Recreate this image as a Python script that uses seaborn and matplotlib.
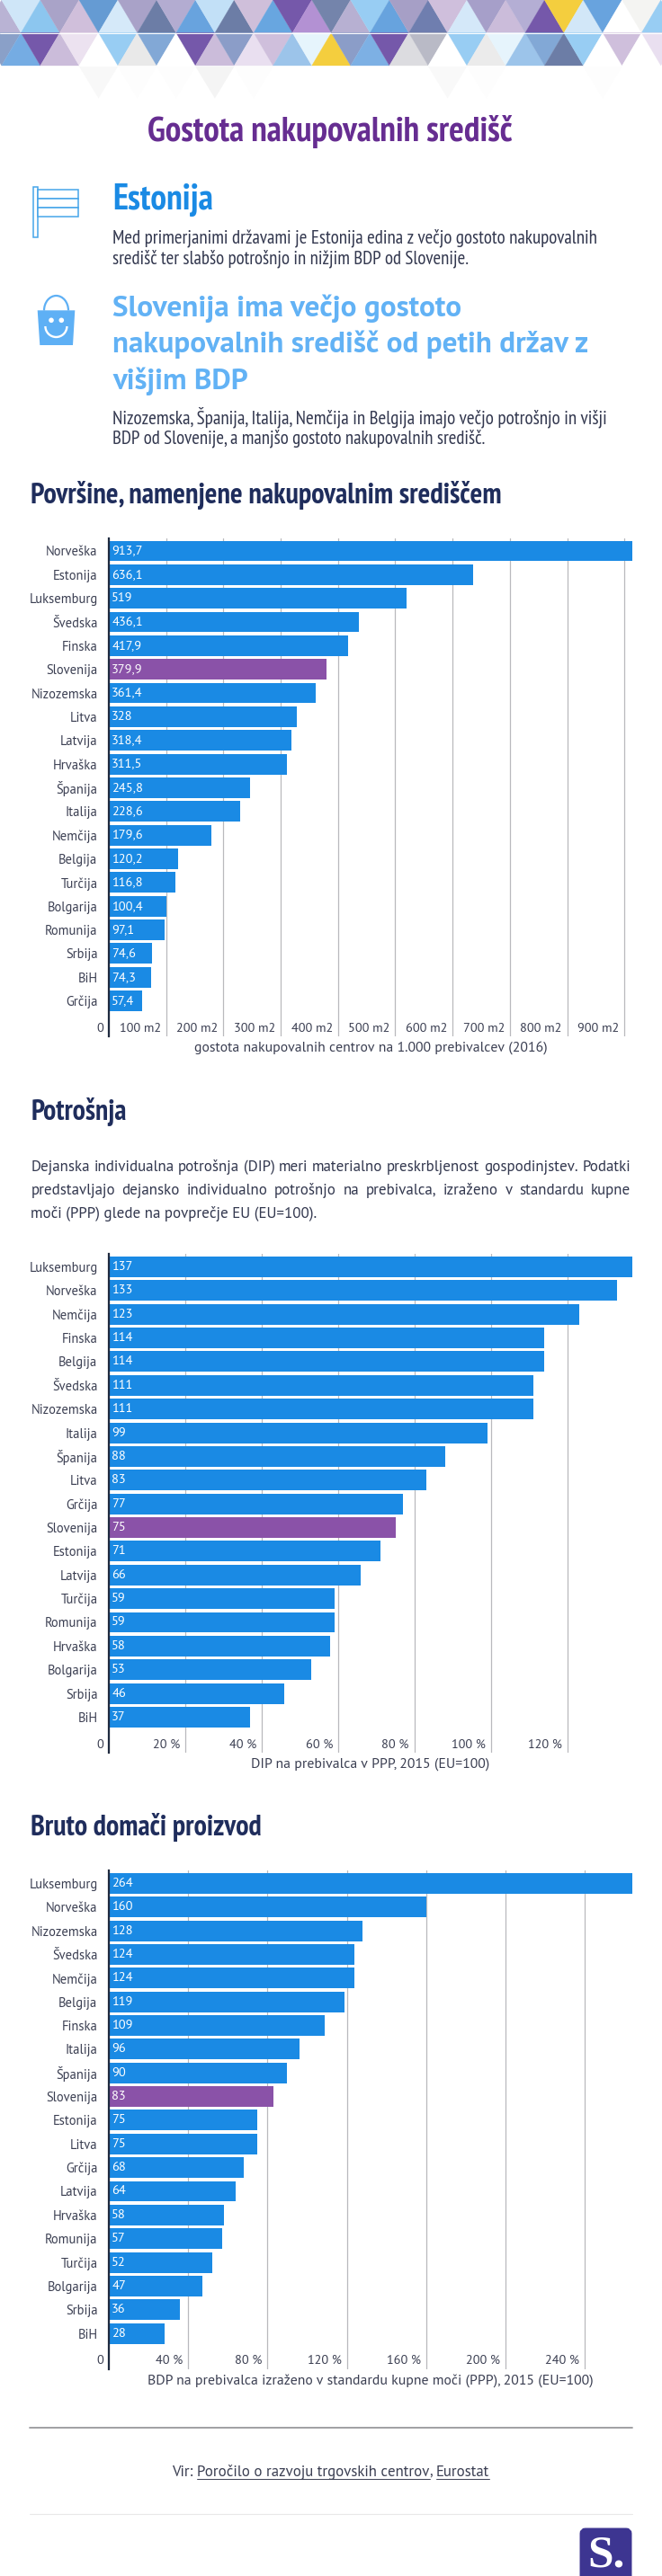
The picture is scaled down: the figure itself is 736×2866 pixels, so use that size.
import matplotlib
matplotlib.use("Agg")
import matplotlib.pyplot as plt
from matplotlib import font_manager as fm
from matplotlib.patches import Polygon, Rectangle, FancyBboxPatch, Arc, Circle
import seaborn as sns

# ---------- data ----------
CATS_AREA = ["Norveška", "Estonija", "Luksemburg", "Švedska", "Finska", "Slovenija", "Nizozemska", "Litva",
             "Latvija", "Hrvaška", "Španija", "Italija", "Nemčija", "Belgija", "Turčija", "Bolgarija",
             "Romunija", "Srbija", "BiH", "Grčija"]
VALS_AREA = [913.7, 636.1, 519, 436.1, 417.9, 379.9, 361.4, 328, 318.4, 311.5, 245.8, 228.6, 179.6, 120.2,
             116.8, 100.4, 97.1, 74.6, 74.3, 57.4]
TICKS_AREA = [0, 100, 200, 300, 400, 500, 600, 700, 800, 900]
TICKLABELS_AREA = ["0", "100 m2", "200 m2", "300 m2", "400 m2", "500 m2", "600 m2", "700 m2", "800 m2", "900 m2"]

CATS_DIP = ["Luksemburg", "Norveška", "Nemčija", "Finska", "Belgija", "Švedska", "Nizozemska", "Italija",
            "Španija", "Litva", "Grčija", "Slovenija", "Estonija", "Latvija", "Turčija", "Romunija",
            "Hrvaška", "Bolgarija", "Srbija", "BiH"]
VALS_DIP = [137, 133, 123, 114, 114, 111, 111, 99, 88, 83, 77, 75, 71, 66, 59, 59, 58, 53, 46, 37]
TICKS_DIP = [0, 20, 40, 60, 80, 100, 120]
TICKLABELS_DIP = ["0", "20 %", "40 %", "60 %", "80 %", "100 %", "120 %"]

CATS_GDP = ["Luksemburg", "Norveška", "Nizozemska", "Švedska", "Nemčija", "Belgija", "Finska", "Italija",
            "Španija", "Slovenija", "Estonija", "Litva", "Grčija", "Latvija", "Hrvaška", "Romunija",
            "Turčija", "Bolgarija", "Srbija", "BiH"]
VALS_GDP = [264, 160, 128, 124, 124, 119, 109, 96, 90, 83, 75, 75, 68, 64, 58, 57, 52, 47, 36, 28]
TICKS_GDP = [0, 40, 80, 120, 160, 200, 240]
TICKLABELS_GDP = ["0", "40 %", "80 %", "120 %", "160 %", "200 %", "240 %"]

TOP_ROW = ["#b9b3d4", "#cfe6f8", "#8cc6ef", "#a9a3c8", "#d0bfdb", "#659bd3", "#d5e9f9", "#a9a2c8", "#6c7da6",
           "#b3acd1", "#68a3de", "#c2e0f7", "#6c7da6", "#cfbfda", "#68a6e0", "#7558aa", "#b391d3", "#7484ab",
           "#b7b0d2", "#98cdf3", "#67a3de", "#a69fc6", "#6f7eaf", "#cfbfdc", "#d4e8f9", "#a69fc9", "#cbbcda",
           "#b4aed4", "#7558aa", "#f4ce3e", "#d2e7f8", "#68a3de", "#ffffff", "#f4f4f2", "#98cdf3"]
MID_ROW = ["#8aa0c8", "#75ace3", "#7558aa", "#cbbcda", "#ece2f0", "#ffffff", "#98cdf3", "#e9e9e9", "#82a8d6",
           "#ffffff", "#7558aa", "#cbbcda", "#8b9dc8", "#e9dff0", "#cfbfdc", "#9cc4ea", "#e6f4fc", "#f4ce3e",
           "#8b9dc8", "#7db0e4", "#7558aa", "#dcdce0", "#b9bac6", "#ffffff", "#98cdf3", "#ebebeb", "#e6f4fc",
           "#9cc4ea", "#82a8d6", "#6c7da6", "#98cdf3", "#ffffff", "#cfbfdc", "#ffffff", "#e9dff0"]
FAINT_ROW = ["#ffffff", "#ffffff", "#f8f8f8", "#fdfdfd", "#fdfdfd", "#f4f4f4", "#fdfdfd", "#ffffff", "#ffffff",
             "#ffffff", "#ffffff", "#f9f9f9", "#fdfdfd", "#ffffff", "#ffffff", "#fdfdfd", "#ffffff"]

BLUE = "#1a8ae4"
PURPLE = "#8a52a8"
DARK = "#1f2d5c"
INK = "#33384f"
LABEL = "#3b3f52"


def pick(*names):
    have = {f.name for f in fm.fontManager.ttflist}
    for n in names:
        if n in have:
            return n
    return "DejaVu Sans"


NARROW = pick("PT Sans Narrow", "Liberation Sans Narrow", "Liberation Sans")
BODY = pick("PT Sans", "Lato")

# ---------- setup ----------
W, H = 736, 2866
sns.set_theme(style="white")
plt.rcParams["font.family"] = [BODY, "DejaVu Sans"]
fig = plt.figure(figsize=(W / 100, H / 100), dpi=100, facecolor="white")
bg = fig.add_axes([0, 0, 1, 1])
bg.set_xlim(0, W)
bg.set_ylim(H, 0)
bg.axis("off")
renderer = fig.canvas.get_renderer()


def width_of(t):
    return t.get_window_extent(renderer).width


def size_for(s, width, family=BODY, base=20):
    t = bg.text(0, 0, s, family=family, fontsize=base)
    size = base * width / width_of(t)
    t.remove()
    return size


def fit(s, x, y, width, color, family=NARROW, weight="normal", ha="left", base=20):
    t = bg.text(x, y, s, color=color, family=family, weight=weight, ha=ha, va="baseline", fontsize=base)
    t.set_fontsize(base * width / width_of(t))
    return t


# ---------- triangle band ----------
P, TH = 43.12, 36.5
T0, M0 = 1.7, 23.3
for i, c in enumerate(TOP_ROW):
    k = i // 2
    if i % 2 == 0:
        pts = [(T0 + P * k, 0), (M0 + P * (k - 1), TH), (M0 + P * k, TH)]
    else:
        pts = [(T0 + P * k, 0), (T0 + P * (k + 1), 0), (M0 + P * k, TH)]
    bg.add_patch(Polygon(pts, closed=True, fc=c, ec=c, lw=0.2))
for i, c in enumerate(MID_ROW):
    k = i // 2
    if i % 2 == 0:
        pts = [(M0 + P * (k - 1), TH), (M0 + P * k, TH), (T0 + P * k, 2 * TH)]
    else:
        pts = [(M0 + P * k, TH), (T0 + P * k, 2 * TH), (T0 + P * (k + 1), 2 * TH)]
    bg.add_patch(Polygon(pts, closed=True, fc=c, ec=c, lw=0.2))
for k, c in enumerate(FAINT_ROW):
    pts = [(T0 + P * k, 2 * TH + 1), (T0 + P * (k + 1), 2 * TH + 1), (M0 + P * k, 3 * TH)]
    bg.add_patch(Polygon(pts, closed=True, fc=c, ec="none"))
bg.plot([0, W], [TH, TH], color="white", lw=0.7)

# ---------- header text ----------
fit("Gostota nakupovalnih središč", 164, 157, 408, "#662d91", weight="bold")
fit("Estonija", 125, 233, 112, BLUE, weight="bold")
fit("Med primerjanimi državami je Estonija edina z večjo gostoto nakupovalnih", 125, 270.5, 537, INK)
fit("središč ter slabšo potrošnjo in nižjim BDP od Slovenije.", 125, 293, 395, INK)
HL = "#62b2f5"
fit("Slovenija ima večjo gostoto", 125, 352, 388, HL, family=BODY, weight="bold")
fit("nakupovalnih središč od petih držav z", 125, 392, 531, HL, family=BODY, weight="bold")
fit("višjim BDP", 125, 432.7, 151, HL, family=BODY, weight="bold")
fit("Nizozemska, Španija, Italija, Nemčija in Belgija imajo večjo potrošnjo in višji", 125, 471, 547, INK)
fit("BDP od Slovenije, a manjšo gostoto nakupovalnih središč.", 125, 493.6, 413.6, INK)

# flag icon
ICON = "#46a5ea"
bg.add_patch(Rectangle((36.6, 208), 5, 56, fc="white", ec=ICON, lw=1.1))
for y0 in (211, 221, 231):
    bg.add_patch(Rectangle((41.6, y0), 45.4, 10, fc="white", ec=ICON, lw=1.1))

# bag icon
BAG = "#5eb0f5"
bg.add_patch(Polygon([(41.7, 345.3), (83.3, 345.3), (81, 384), (44.3, 384)], closed=True, fc=BAG, ec="none"))
bg.add_patch(Arc((62.5, 345.5), 27, 33, theta1=180, theta2=360, ec=BAG, lw=1.6))
bg.add_patch(Circle((57, 356.3), 2.8, fc="white", ec="none"))
bg.add_patch(Circle((68.3, 356.3), 2.8, fc="white", ec="none"))
bg.add_patch(Arc((62.4, 363), 24, 24, theta1=0, theta2=180, ec="white", lw=1.7))

# ---------- section headings ----------
fit("Površine, namenjene nakupovalnim središčem", 34.3, 559.5, 524, DARK, weight="bold")
fit("Potrošnja", 34.3, 1245.7, 107, DARK, weight="bold")
fit("Bruto domači proizvod", 34.3, 2041.7, 258, DARK, weight="bold")

# justified paragraph
PARA = ["Dejanska individualna potrošnja (DIP) meri materialno preskrbljenost gospodinjstev. Podatki",
        "predstavljajo dejansko individualno potrošnjo na prebivalca, izraženo v standardu kupne",
        "moči (PPP) glede na povprečje EU (EU=100)."]
last = fit(PARA[2], 34.3, 1355, 317, INK, family=BODY)
psize = last.get_fontsize()
for line, y in zip(PARA[:2], (1303.4, 1329)):
    words = [bg.text(0, y, w, color=INK, family=BODY, fontsize=psize, va="baseline") for w in line.split()]
    widths = [width_of(t) for t in words]
    gap = (701 - 34.3 - sum(widths)) / (len(words) - 1)
    x = 34.3
    for t, wd in zip(words, widths):
        t.set_x(x)
        x += wd + gap

# chart text sizes, from the widths measured in the reference
CAT_SIZE = size_for("Luksemburg", 75.6)
VAL_SIZE = size_for("913,7", 34.7)
TICK_SIZE = size_for("100 m2", 46.5)
XLABEL_SIZE = size_for("gostota nakupovalnih centrov na 1.000 prebivalcev (2016)", 390)


# ---------- charts ----------
def chart(top, bottom, cats, vals, ticks, ticklabels, xlabel):
    ax = fig.add_axes([121 / W, 1 - bottom / H, (703 - 121) / W, (bottom - top) / H])
    ax.patch.set_alpha(0)
    palette = [PURPLE if c == "Slovenija" else BLUE for c in cats]
    sns.barplot(x=vals, y=cats, hue=cats, palette=palette, orient="h", width=0.87, saturation=1,
                legend=False, dodge=False, ax=ax, zorder=3, linewidth=0)
    ax.set_xlim(0, max(vals))
    ax.set_ylim(20.5, -0.55)
    ax.set_xticks(ticks)
    ax.tick_params(axis="x", length=0, pad=-11)
    ax.tick_params(axis="y", length=0, pad=9, labelsize=CAT_SIZE, labelcolor=LABEL)
    ax.set_xticklabels(ticklabels, ha="right", fontsize=TICK_SIZE, color=LABEL)
    offset = matplotlib.transforms.ScaledTranslation(-6 / 100, 0, fig.dpi_scale_trans)
    for lab in ax.get_xticklabels():
        lab.set_transform(lab.get_transform() + offset)
    ax.grid(axis="x", color="#b9b9bd", lw=0.9)
    ax.grid(axis="y", visible=False)
    ax.set_axisbelow(True)
    for s in ("top", "right", "bottom"):
        ax.spines[s].set_visible(False)
    ax.spines["left"].set_color("#1f2a3f")
    ax.spines["left"].set_linewidth(1.6)
    ax.spines["left"].set_zorder(5)
    for i, v in enumerate(vals):
        ax.annotate(f"{v:g}".replace(".", ","), (0, i), xytext=(2.3, 0), textcoords="offset points",
                    color="white", fontsize=VAL_SIZE, va="center", ha="left", zorder=6)
    ax.set_xlabel(xlabel, fontsize=XLABEL_SIZE, color=LABEL, labelpad=4)
    ax.set_ylabel("")


chart(598.5, 1153, CATS_AREA, VALS_AREA, TICKS_AREA, TICKLABELS_AREA,
      "gostota nakupovalnih centrov na 1.000 prebivalcev (2016)")
chart(1395, 1950, CATS_DIP, VALS_DIP, TICKS_DIP, TICKLABELS_DIP, "DIP na prebivalca v PPP, 2015 (EU=100)")
chart(2081, 2635.6, CATS_GDP, VALS_GDP, TICKS_GDP, TICKLABELS_GDP,
      "BDP na prebivalca izraženo v standardu kupne moči (PPP), 2015 (EU=100)")

# ---------- footer ----------
bg.plot([33, 703], [2700.5, 2700.5], color="#98989c", lw=1.3)
bg.plot([33, 703], [2796.6, 2796.6], color="#e8e8e8", lw=0.8)
SRC_SIZE = size_for("Vir: Poročilo o razvoju trgovskih centrov, Eurostat", 352)
x = 191.5
for piece, under in (("Vir: ", False), ("Poročilo o razvoju trgovskih centrov", True), (", ", False),
                     ("Eurostat", True)):
    t = bg.text(x, 2755, piece.replace(" ", "\u00a0") if not under else piece, color=LABEL, family=BODY,
                fontsize=SRC_SIZE, va="baseline")
    wd = width_of(t)
    if under:
        bg.plot([x, x + wd], [2757.5, 2757.5], color=LABEL, lw=0.7)
    x += wd

bg.add_patch(FancyBboxPatch((648, 2816), 51, 60, boxstyle="round,pad=0,rounding_size=3", mutation_aspect=1,
                            fc="#3d3591", ec="#3d3591", lw=5))
bg.text(673.5, 2856, "S.", color="white", family=["Liberation Serif", "DejaVu Serif"], weight="bold",
        fontsize=37, ha="center", va="baseline")
bg.set_xlim(0, W)
bg.set_ylim(H, 0)

fig.savefig("out.png", dpi=100, facecolor="white")
